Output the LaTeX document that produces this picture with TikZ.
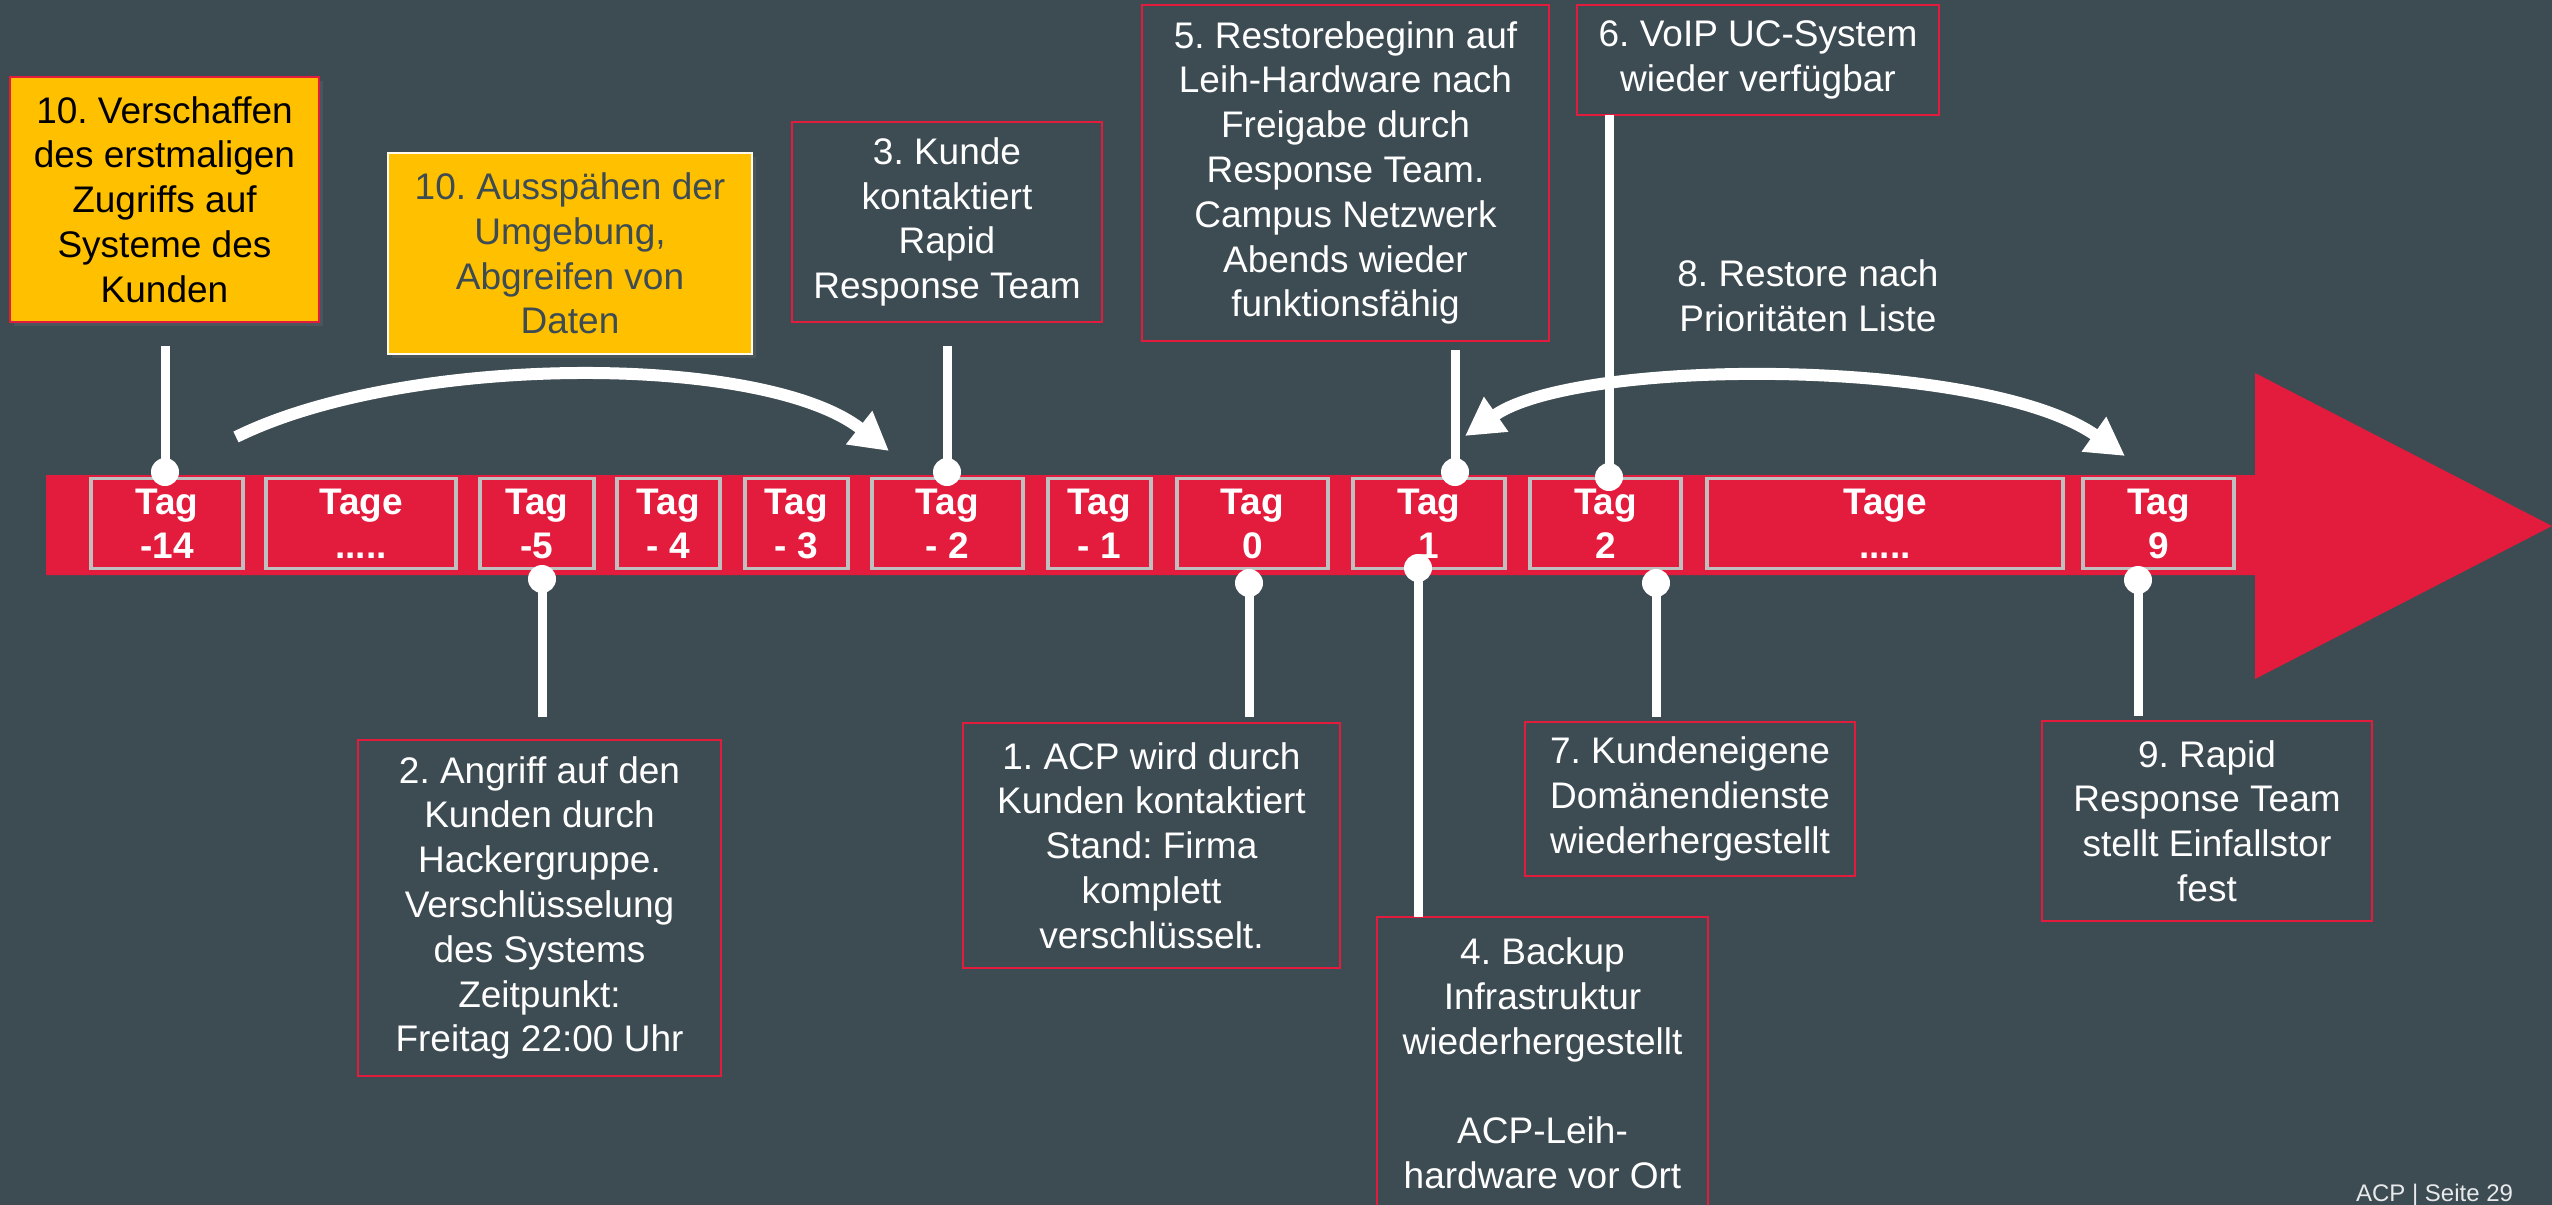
\documentclass[tikz,border=0pt]{standalone}
\usepackage{fontspec}
\setmainfont{Liberation Sans}
\usetikzlibrary{arrows.meta,shadows}

\definecolor{slate}{RGB}{61,75,83}
\definecolor{signal}{RGB}{227,28,61}
\definecolor{amber}{RGB}{255,192,0}
\definecolor{frame}{RGB}{191,191,191}

\tikzset{bigtip/.tip={Triangle[length=38pt,width=40pt]}}
\frenchspacing

\begin{document}
\begin{tikzpicture}[x=1pt,y=-1pt,
  every node/.style={inner sep=0pt, outer sep=0pt},
  daybox/.style={draw=frame, line width=3.5pt, fill=signal, text=white, align=center,
    font=\fontsize{37}{44}\selectfont\bfseries, minimum height=90pt},
  note/.style={draw=signal, line width=2.5pt, text=white, align=center,
    font=\fontsize{37}{44.8}\selectfont},
  alert/.style={note, fill=amber, text=black,
    drop shadow={shadow xshift=4pt, shadow yshift=-4pt, opacity=0.22}},
  stem/.style={draw=white, line width=9pt},
  knob/.style={circle, fill=white, minimum size=28pt},
  sweep/.style={draw=white, line width=12pt},
]
% canvas
\useasboundingbox (0,0) rectangle (2552,1205);
\fill[slate] (0,0) rectangle (2552,1205);
\clip (0,0) rectangle (2552,1205);

% timeline arrow
\fill[signal] (46,475) -- (2255,475) -- (2255,373) -- (2552,526) -- (2255,679)
  -- (2255,575) -- (46,575) -- cycle;

% day boxes on the timeline
\node[daybox, minimum width=152pt] (t14)  at (167,523.5)    {Tag\\-14};
\node[daybox, minimum width=190pt] (tgA)  at (361,523.5)    {Tage\\.....};
\node[daybox, minimum width=114pt] (t5)   at (537,523.5)    {Tag\\-5};
\node[daybox, minimum width=103pt] (t4)   at (668.5,523.5)  {Tag\\- 4};
\node[daybox, minimum width=103pt] (t3)   at (796.5,523.5)  {Tag\\- 3};
\node[daybox, minimum width=151pt] (t2)   at (947.5,523.5)  {Tag\\- 2};
\node[daybox, minimum width=103pt] (t1)   at (1099.5,523.5) {Tag\\- 1};
\node[daybox, minimum width=151pt] (p0)   at (1252.5,523.5) {Tag\\0};
\node[daybox, minimum width=152pt] (p1)   at (1429,523.5)   {Tag\\1};
\node[daybox, minimum width=151pt] (p2)   at (1605.5,523.5) {Tag\\2};
\node[daybox, minimum width=356pt] (tgB)  at (1885,523.5)   {Tage\\.....};
\node[daybox, minimum width=151pt] (p9)   at (2158.5,523.5) {Tag\\9};

% attacker phase
\node[alert, minimum width=309pt, minimum height=245pt] (v10) at (164.5,199.5)
  {10. Verschaffen\\des erstmaligen\\Zugriffs auf\\Systeme des\\Kunden};
\node[alert, draw=white!92!amber, line width=2pt, text=slate,
  minimum width=364pt, minimum height=201pt] (a10) at (570,253.5)
  {10. Ausspähen der\\Umgebung,\\Abgreifen von\\Daten};

% events above the timeline
\node[note, minimum width=310pt, minimum height=200pt] (e3) at (947,222)
  {3. Kunde\\kontaktiert\\Rapid\\Response Team};
\node[note, minimum width=407pt, minimum height=336pt] (e5) at (1345.5,173)
  {5. Restorebeginn auf\\Leih-Hardware nach\\Freigabe durch\\Response Team.\\Campus Netzwerk\\Abends wieder\\funktionsfähig};
\node[note, minimum width=362pt, minimum height=110pt] (e6) at (1758,60)
  {6. VoIP UC-System\\wieder verfügbar};
\node[text=white, align=center, font=\fontsize{37}{44.8}\selectfont] (e8) at (1808,296)
  {8. Restore nach\\Prioritäten Liste};

% events below the timeline
\node[note, minimum width=363pt, minimum height=336pt] (e2) at (539.5,908)
  {2. Angriff auf den\\Kunden durch\\Hackergruppe.\\Verschlüsselung\\des Systems\\Zeitpunkt:\\Freitag 22:00 Uhr};
\node[note, minimum width=377pt, minimum height=245pt] (e1) at (1151.5,845.5)
  {1. ACP wird durch\\Kunden kontaktiert\\Stand: Firma\\komplett\\verschlüsselt.};
\node[note, minimum width=331pt, minimum height=293pt] (e4) at (1542.5,1063.5)
  {4. Backup\\Infrastruktur\\wiederhergestellt\\[44.8pt]ACP-Leih-\\hardware vor Ort};
\node[note, minimum width=330pt, minimum height=154pt] (e7) at (1690,799)
  {7. Kundeneigene\\Domänendienste\\wiederhergestellt};
\node[note, minimum width=330pt, minimum height=200pt] (e9) at (2207,821)
  {9. Rapid\\Response Team\\stellt Einfallstor\\fest};

% pins joining the events to their days
\node[knob] (k14) at (165,472) {};
\node[knob] (k5)  at (542,579) {};
\node[knob] (k2)  at (947,472) {};
\node[knob] (k0)  at (1249,583) {};
\node[knob] (k1t) at (1455,472) {};
\node[knob] (k1b) at (1418,568) {};
\node[knob] (k2t) at (1609,477) {};
\node[knob] (k2b) at (1656,583) {};
\node[knob] (k9)  at (2138,580) {};

\coordinate (s14) at (165,346);
\coordinate (s5)  at (542,717);
\coordinate (s2)  at (947,346);
\coordinate (s0)  at (1249,717);
\coordinate (s1t) at (1455,350);
\coordinate (s2b) at (1656,717);
\coordinate (s9)  at (2138,716);

\draw[stem] (s14) -- (k14.center);
\draw[stem] (k5.center) -- (s5);
\draw[stem] (s2) -- (k2.center);
\draw[stem] (k0.center) -- (s0);
\draw[stem] (s1t) -- (k1t.center);
\draw[stem] (k1b.center) -- (k1b |- e4.north);
\draw[stem] (k2t |- e6.south) -- (k2t.center);
\draw[stem] (k2b.center) -- (s2b);
\draw[stem] (k9.center) -- (s9);

% spans
\coordinate (r1) at (236,437);
\coordinate (r2) at (889,451);
\draw[sweep, -{bigtip}] (r1) .. controls (406,353) and (764,353) .. (r2);

\coordinate (q1) at (1465,436);
\coordinate (q2) at (2125,456);
\draw[sweep, {bigtip}-{bigtip}] (q1) .. controls (1578,357) and (1984,357) .. (q2);

% page footer
\node[anchor=base east, text=white!88!slate, font=\fontsize{24}{28}\selectfont] (pg)
  at (2513,1201) {ACP | Seite 29};
\end{tikzpicture}
\end{document}
